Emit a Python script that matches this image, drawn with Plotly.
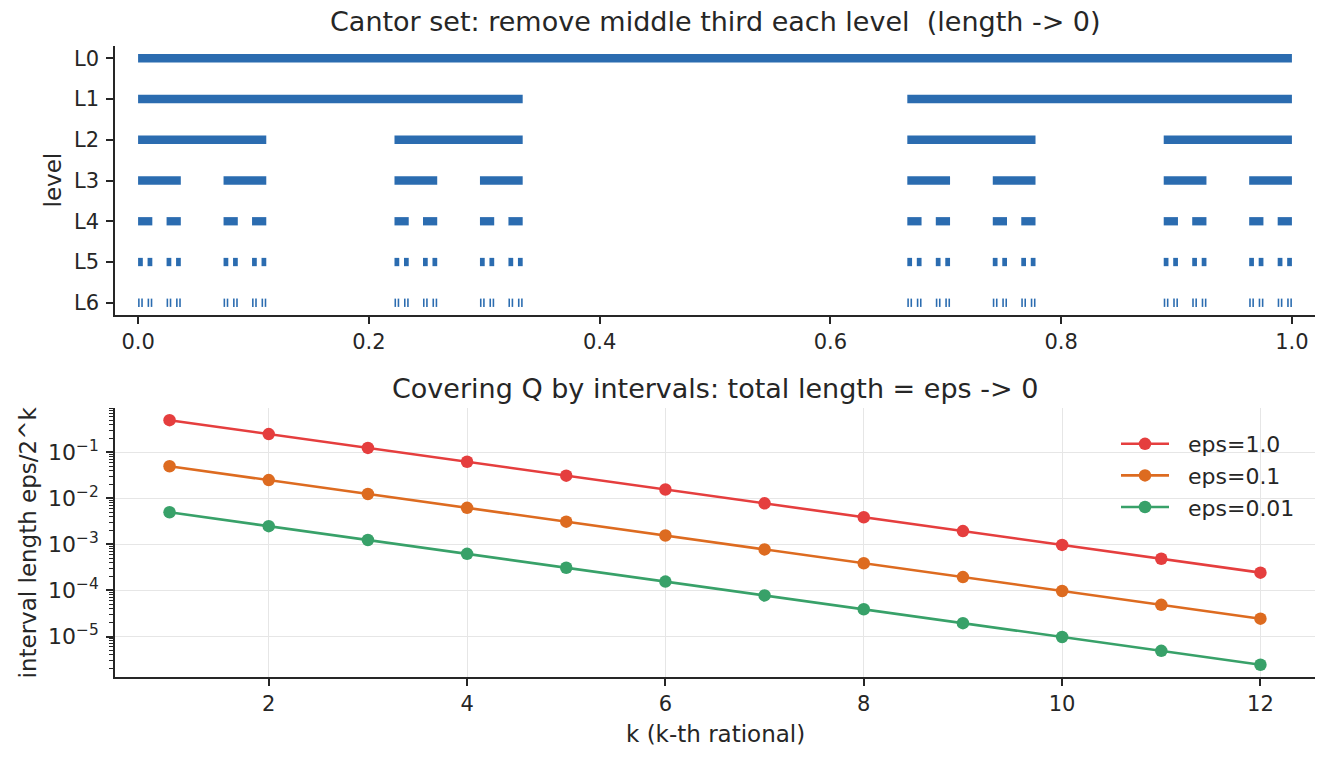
import plotly.graph_objects as go

# ---------------- data ----------------
level_labels = ["L0", "L1", "L2", "L3", "L4", "L5", "L6"]
level_denoms = [1, 3, 9, 27, 81, 243, 729]
# left endpoints of remaining intervals (numerators over 3^level)
cantor_L0 = [0]
cantor_L1 = [0, 2]
cantor_L2 = [0, 2, 6, 8]
cantor_L3 = [0, 2, 6, 8, 18, 20, 24, 26]
cantor_L4 = [0, 2, 6, 8, 18, 20, 24, 26, 54, 56, 60, 62, 72, 74, 78, 80]
cantor_L5 = [0, 2, 6, 8, 18, 20, 24, 26, 54, 56, 60, 62, 72, 74, 78, 80,
             162, 164, 168, 170, 180, 182, 186, 188, 216, 218, 222, 224, 234, 236, 240, 242]
cantor_L6 = [0, 2, 6, 8, 18, 20, 24, 26, 54, 56, 60, 62, 72, 74, 78, 80,
             162, 164, 168, 170, 180, 182, 186, 188, 216, 218, 222, 224, 234, 236, 240, 242,
             486, 488, 492, 494, 504, 506, 510, 512, 540, 542, 546, 548, 558, 560, 564, 566,
             648, 650, 654, 656, 666, 668, 672, 674, 702, 704, 708, 710, 720, 722, 726, 728]
cantor_levels = [cantor_L0, cantor_L1, cantor_L2, cantor_L3, cantor_L4, cantor_L5, cantor_L6]

k_values = [1, 2, 3, 4, 5, 6, 7, 8, 9, 10, 11, 12]
eps_labels = ["eps=1.0", "eps=0.1", "eps=0.01"]
len_eps_1 = [0.5, 0.25, 0.125, 0.0625, 0.03125, 0.015625, 0.0078125, 0.00390625,
             0.001953125, 0.0009765625, 0.00048828125, 0.000244140625]
len_eps_01 = [0.05, 0.025, 0.0125, 0.00625, 0.003125, 0.0015625, 0.00078125, 0.000390625,
              0.0001953125, 0.00009765625, 0.000048828125, 0.0000244140625]
len_eps_001 = [0.005, 0.0025, 0.00125, 0.000625, 0.0003125, 0.00015625, 0.000078125,
               0.0000390625, 0.00001953125, 0.000009765625, 0.0000048828125, 0.00000244140625]
eps_series = [len_eps_1, len_eps_01, len_eps_001]

x_ticks_top = [0.0, 0.2, 0.4, 0.6, 0.8, 1.0]
x_ticks_bottom = [2, 4, 6, 8, 10, 12]
y_ticks_log = [1e-5, 1e-4, 1e-3, 1e-2, 1e-1]
y_ticktext_log = ["10<sup>\u22125</sup>", "10<sup>\u22124</sup>", "10<sup>\u22123</sup>",
                  "10<sup>\u22122</sup>", "10<sup>\u22121</sup>"]

# ---------------- style ----------------
W, H = 1331, 761
ML, MR, MT, MB = 115, 16, 46, 84
PH = H - MT - MB
top_bottom_px = 315
bot_top_px = 408
BLUE = "#2b6cb0"
COLORS = ["#e53e3e", "#dd6b20", "#38a169"]
AX = "#262626"
FONT = "DejaVu Sans"
TICK = 21
LAB = 23
TITLE = 27

def py(p):  # pixel y -> paper y
    return (H - MB - p) / PH

def px(p):
    return (p - ML) / (W - ML - MR)

fig = go.Figure()

for lvl, (nums, den) in enumerate(zip(cantor_levels, level_denoms)):
    xs, ys = [], []
    for a in nums:
        xs += [a / den, (a + 1) / den, None]
        ys += [lvl, lvl, None]
    fig.add_trace(go.Scatter(x=xs, y=ys, mode="lines", line=dict(color=BLUE, width=8.3),
                             showlegend=False, xaxis="x", yaxis="y", hoverinfo="skip"))

for name, vals, c in zip(eps_labels, eps_series, COLORS):
    fig.add_trace(go.Scatter(x=k_values, y=vals, mode="lines+markers",
                             name="\u00a0\u00a0" + name,
                             line=dict(color=c, width=2.6),
                             marker=dict(color=c, size=12.5),
                             xaxis="x2", yaxis="y2"))

axis_common = dict(showline=True, linecolor=AX, linewidth=1.6, ticks="outside",
                   ticklen=7, tickwidth=1.6, tickcolor=AX, mirror=False, zeroline=False)

fig.update_layout(
    width=W, height=H,
    margin=dict(l=ML, r=MR, t=MT, b=MB),
    paper_bgcolor="white", plot_bgcolor="white",
    font=dict(family=FONT, color=AX),
    xaxis=dict(domain=[0, 1], anchor="y", range=[-0.02, 1.02], tickvals=x_ticks_top,
               tickformat=".1f", showgrid=False,
               tickfont=dict(family=FONT, size=TICK, color=AX), **axis_common),
    yaxis=dict(domain=[py(top_bottom_px), 1], anchor="x", range=[6.3, -0.3],
               tickvals=list(range(len(level_labels))), ticktext=level_labels,
               showgrid=False, ticklabelstandoff=3,
               tickfont=dict(family=FONT, size=TICK, color=AX), **axis_common),
    xaxis2=dict(domain=[0, 1], anchor="y2", range=[0.45, 12.55], tickvals=x_ticks_bottom,
                showgrid=True, gridcolor="#e6e6e6", gridwidth=1.2,
                tickfont=dict(family=FONT, size=TICK, color=AX), **axis_common),
    yaxis2=dict(domain=[0, py(bot_top_px)], anchor="x2", type="log",
                range=[-5.879, -0.036], tickvals=y_ticks_log, ticktext=y_ticktext_log,
                showgrid=True, gridcolor="#e6e6e6", gridwidth=1.2, ticklabelstandoff=3,
                minor=dict(ticks="outside", ticklen=4, tickwidth=1.2, tickcolor=AX,
                           dtick="D1", showgrid=False),
                tickfont=dict(family=FONT, size=22, color=AX), **axis_common),
    legend=dict(x=px(1300), xanchor="right", y=py(423), yanchor="top",
                bgcolor="rgba(0,0,0,0)", font=dict(family=FONT, size=LAB - 1, color=AX),
                itemwidth=48, tracegroupgap=0),
    showlegend=True,
)

ann = [
    dict(text="Cantor set: remove middle third each level\u00a0\u00a0(length -> 0)",
         x=0.5, y=py(22), font=dict(size=TITLE)),
    dict(text="Covering Q by intervals: total length = eps -> 0",
         x=0.5, y=py(388), font=dict(size=TITLE)),
    dict(text="k (k-th rational)", x=0.5, y=py(734), font=dict(size=LAB)),
    dict(text="level", x=px(52), y=py(180.5), textangle=-90, font=dict(size=LAB)),
    dict(text="interval length eps/2^k", x=px(27), y=py(542.5), textangle=-90,
         font=dict(size=LAB)),
]
for a in ann:
    a.update(xref="paper", yref="paper", showarrow=False, xanchor="center", yanchor="middle")
    a["font"].update(family=FONT, color=AX)
fig.update_layout(annotations=ann)

fig.write_html("out.html")
